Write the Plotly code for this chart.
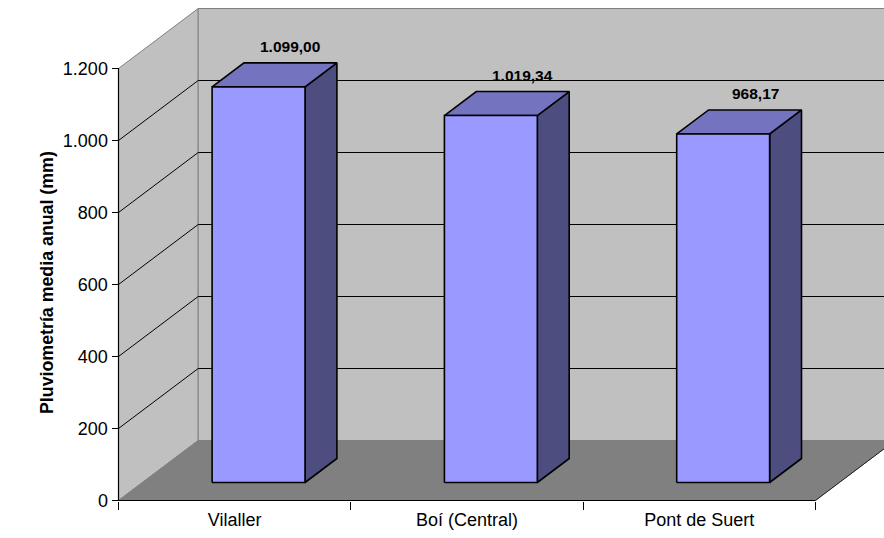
import plotly.graph_objects as go

# Mean annual rainfall per station (mm)
stations = ["Vilaller", "Boí (Central)", "Pont de Suert"]
rainfall_mm = [1099.00, 1019.34, 968.17]
y_ticks = [0, 200, 400, 600, 800, 1000, 1200]
y_title = "Pluviometría media anual (mm)"

W, H = 884, 538
FONT = "Liberation Sans, Arial, sans-serif"

# Front plane placement (px) and oblique depth vector of the 3D box
X0_PX, CAT_PX = 118.5, 232.3
Y0_PX, UNIT_PX = 500.5, 0.36
DEPTH_PX = (79.7, -60.0)

DX = DEPTH_PX[0] / CAT_PX          # depth offset in category units
DY = -DEPTH_PX[1] / UNIT_PX        # depth offset in mm units
YMAX = y_ticks[-1]
N = len(stations)

BAR_FRONT, BAR_TOP, BAR_SIDE = "#9999FF", "#7373BF", "#4D4D80"
WALL, FLOOR, EDGE = "#C0C0C0", "#808080", "#808080"


def proj(x, v, d):
    """Oblique projection: category x, value v, depth fraction d."""
    return x + d * DX, v + d * DY


def es_num(v, dec=0):
    s = f"{v:,.{dec}f}"
    return s.replace(",", "#").replace(".", ",").replace("#", ".")


fig = go.Figure()


def polygon(pts, fill, line_color, width=1.0):
    xs = [p[0] for p in pts] + [pts[0][0]]
    ys = [p[1] for p in pts] + [pts[0][1]]
    fig.add_trace(go.Scatter(
        x=xs, y=ys, mode="lines", fill="toself", fillcolor=fill,
        line=dict(color=line_color, width=width),
        hoverinfo="skip", showlegend=False))


def polyline(pts, color, width=1.0):
    fig.add_trace(go.Scatter(
        x=[p[0] for p in pts], y=[p[1] for p in pts], mode="lines",
        line=dict(color=color, width=width),
        hoverinfo="skip", showlegend=False))


# Walls and floor
polygon([proj(0, 0, 0), proj(0, 0, 1), proj(0, YMAX, 1), proj(0, YMAX, 0)], WALL, EDGE)
polygon([proj(0, 0, 1), proj(N, 0, 1), proj(N, YMAX, 1), proj(0, YMAX, 1)], WALL, EDGE)
polygon([proj(0, 0, 0), proj(0, 0, 1), proj(N, 0, 1), proj(N, 0, 0)], FLOOR, FLOOR)
polyline([proj(N, 0, 0), proj(N, 0, 1)], "#202020", 1)

# Gridlines across the side wall and the back wall
for v in y_ticks[1:-1]:
    polyline([proj(0, v, 0), proj(0, v, 1), proj(N, v, 1)], "black", 1)

# 3D columns
for i, v in enumerate(rainfall_mm):
    a, b = i + 0.3, i + 0.7
    d0, d1 = 0.3, 0.7
    polygon([proj(b, 0, d0), proj(b, 0, d1), proj(b, v, d1), proj(b, v, d0)], BAR_SIDE, "black", 1.6)
    polygon([proj(a, v, d0), proj(b, v, d0), proj(b, v, d1), proj(a, v, d1)], BAR_TOP, "black", 1.6)
    polygon([proj(a, 0, d0), proj(b, 0, d0), proj(b, v, d0), proj(a, v, d0)], BAR_FRONT, "black", 1.6)

# Axis lines on the front plane
polyline([proj(0, 0, 0), proj(0, YMAX, 0)], "black", 1.2)
polyline([proj(0, 0, 0), proj(N, 0, 0)], "black", 1.2)

# Invisible trace so the label axis is rendered
fig.add_trace(go.Scatter(x=[i + 0.5 for i in range(N)], y=rainfall_mm, xaxis="x2",
                         mode="markers", marker=dict(opacity=0), hoverinfo="skip",
                         showlegend=False))

x_range = [-X0_PX / CAT_PX, (W - X0_PX) / CAT_PX]
y_range = [-(H - Y0_PX) / UNIT_PX, Y0_PX / UNIT_PX]
x_pos = (H - Y0_PX) / H

fig.update_layout(
    width=W, height=H,
    margin=dict(l=0, r=0, t=0, b=0),
    paper_bgcolor="white", plot_bgcolor="white",
    font=dict(family=FONT, color="black"),
    xaxis=dict(range=x_range, domain=[0, 1], anchor="free", position=x_pos,
               tickmode="array", tickvals=list(range(N + 1)), showticklabels=False,
               ticks="outside", ticklen=8, tickcolor="black", tickwidth=1,
               showgrid=False, zeroline=False, showline=False, fixedrange=True),
    xaxis2=dict(range=x_range, overlaying="x", anchor="free", position=x_pos,
                tickmode="array", tickvals=[i + 0.5 for i in range(N)], ticktext=stations,
                ticks="outside", ticklen=3, tickcolor="rgba(0,0,0,0)",
                tickfont=dict(family=FONT, size=18, color="black"),
                showgrid=False, zeroline=False, showline=False, fixedrange=True),
    yaxis=dict(range=y_range, domain=[0, 1], anchor="free", position=X0_PX / W,
               tickmode="array", tickvals=y_ticks, ticktext=[es_num(t) for t in y_ticks],
               ticks="outside", ticklen=7, tickcolor="black", tickwidth=1,
               tickfont=dict(family=FONT, size=18, color="black"),
               showgrid=False, zeroline=False, showline=False, fixedrange=True),
)

# Value labels above each column
for i, v in enumerate(rainfall_mm):
    lx, ly = proj(i + 0.5, v, 0.7)
    fig.add_annotation(x=lx, y=ly, xref="x", yref="y", text=f"<b>{es_num(v, 2)}</b>",
                       showarrow=False, yshift=16,
                       font=dict(family=FONT, size=15.5, color="black"))

# Axis title
fig.add_annotation(x=35 / W, y=1 - 283 / H, xref="paper", yref="paper", text=f"<b>{y_title}</b>",
                   textangle=-90, showarrow=False,
                   font=dict(family=FONT, size=17.8, color="black"))

fig.write_html("out.html")
